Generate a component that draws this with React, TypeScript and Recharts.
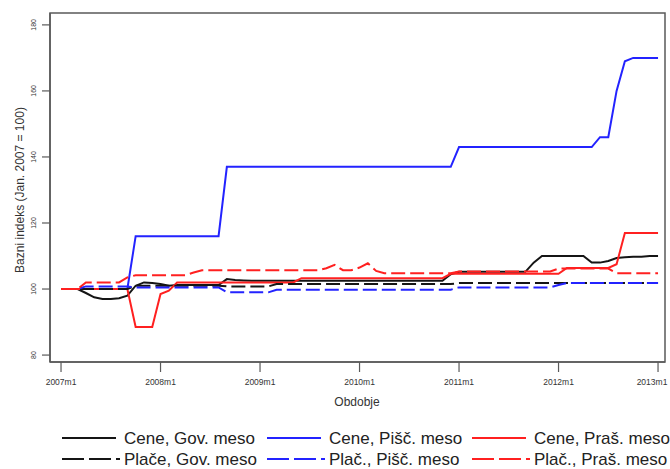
import React from "react";
import { LineChart, Line, XAxis, YAxis, ReferenceArea } from "recharts";

// months since 2007m1, one value per month up to 2013m1
const MONTHS: number[] = [
  0, 1, 2, 3, 4, 5, 6, 7, 8, 9, 10, 11,
  12, 13, 14, 15, 16, 17, 18, 19, 20, 21, 22, 23,
  24, 25, 26, 27, 28, 29, 30, 31, 32, 33, 34, 35,
  36, 37, 38, 39, 40, 41, 42, 43, 44, 45, 46, 47,
  48, 49, 50, 51, 52, 53, 54, 55, 56, 57, 58, 59,
  60, 61, 62, 63, 64, 65, 66, 67, 68, 69, 70, 71,
  72,
];

const X_TICKS = [0, 12, 24, 36, 48, 60, 72];
const X_TICK_LABELS = ["2007m1", "2008m1", "2009m1", "2010m1", "2011m1", "2012m1", "2013m1"];
const Y_TICKS = [80, 100, 120, 140, 160, 180];

const ceneGov: number[] = [
  100, 100, 100, 98.8, 97.5, 97, 97, 97.2, 98, 101, 102, 101.8,
  101.5, 101, 101.2, 101.2, 101.2, 101.2, 101.2, 101.2, 103, 102.7, 102.6, 102.5,
  102.5, 102.5, 102.5, 102.5, 102.5, 102.5, 102.5, 102.5, 102.5, 102.5, 102.5, 102.5,
  102.5, 102.5, 102.5, 102.5, 102.5, 102.5, 102.5, 102.5, 102.5, 102.5, 102.5, 104.5,
  105.2, 105.2, 105.2, 105.2, 105.2, 105.2, 105.2, 105.2, 105.2, 108, 110, 110,
  110, 110, 110, 110, 108, 108, 108.5, 109.4, 109.6, 109.8, 109.8, 110,
  110,
];

const cenePisc: number[] = [
  100, 100, 100, 100, 100, 100, 100, 100, 100, 116, 116, 116,
  116, 116, 116, 116, 116, 116, 116, 116, 137, 137, 137, 137,
  137, 137, 137, 137, 137, 137, 137, 137, 137, 137, 137, 137,
  137, 137, 137, 137, 137, 137, 137, 137, 137, 137, 137, 137,
  143, 143, 143, 143, 143, 143, 143, 143, 143, 143, 143, 143,
  143, 143, 143, 143, 143, 146, 146, 160, 169, 170, 170, 170,
  170,
];

const cenePras: number[] = [
  100, 100, 100, 100, 100, 100, 100, 100, 100, 88.5, 88.5, 88.5,
  98.5, 99.5, 102, 102, 102, 102, 102, 102, 102, 102, 102, 102,
  102, 102, 102, 102, 102, 103.3, 103.3, 103.3, 103.3, 103.3, 103.3, 103.3,
  103.3, 103.3, 103.3, 103.3, 103.3, 103.3, 103.3, 103.3, 103.3, 103.3, 103.3, 104.6,
  104.6, 104.6, 104.6, 104.6, 104.6, 104.6, 104.6, 104.6, 104.6, 104.6, 104.6, 104.6,
  104.6, 106.4, 106.4, 106.4, 106.4, 106.4, 106.4, 107.5, 117, 117, 117, 117,
  117,
];

const placeGov: number[] = [
  100, 100, 100, 100, 100, 100, 100, 100, 100, 101, 101, 101,
  101, 101, 101, 101, 101, 101, 101, 101, 100.8, 100.8, 100.8, 100.8,
  100.8, 100.8, 101.5, 101.5, 101.5, 101.5, 101.5, 101.5, 101.5, 101.5, 101.5, 101.5,
  101.5, 101.5, 101.5, 101.5, 101.5, 101.5, 101.5, 101.5, 101.5, 101.5, 101.5, 101.5,
  101.8, 101.8, 101.8, 101.8, 101.8, 101.8, 101.8, 101.8, 101.8, 101.8, 101.8, 101.8,
  101.8, 101.8, 101.8, 101.8, 101.8, 101.8, 101.8, 101.8, 101.8, 101.8, 101.8, 101.8,
  101.8,
];

const placPisc: number[] = [
  100, 100, 100, 100.8, 100.8, 100.8, 100.8, 100.8, 100.8, 100.5, 100.5, 100.5,
  100.5, 100.5, 100.5, 100.5, 100.5, 100.5, 100.5, 100.5, 99, 99, 99, 99,
  99, 99, 99.8, 99.8, 99.8, 99.8, 99.8, 99.8, 99.8, 99.8, 99.8, 99.8,
  99.8, 99.8, 99.8, 99.8, 99.8, 99.8, 99.8, 99.8, 99.8, 99.8, 99.8, 99.8,
  100.5, 100.5, 100.5, 100.5, 100.5, 100.5, 100.5, 100.5, 100.5, 100.5, 100.5, 100.5,
  101.2, 101.8, 101.8, 101.8, 101.8, 101.8, 101.8, 101.8, 101.8, 101.8, 101.8, 101.8,
  101.8,
];

const placPras: number[] = [
  100, 100, 100, 102, 102, 102, 102, 102, 103.5, 104.2, 104.2, 104.2,
  104.2, 104.2, 104.2, 104.2, 105, 105.7, 105.7, 105.7, 105.7, 105.7, 105.7, 105.7,
  105.7, 105.7, 105.7, 105.7, 105.7, 105.7, 105.7, 105.7, 106.3, 107.3, 105.7, 105.7,
  106.5, 107.8, 105.5, 104.8, 104.8, 104.8, 104.8, 104.8, 104.8, 104.8, 104.8, 104.8,
  105.3, 105.3, 105.3, 105.3, 105.3, 105.3, 105.3, 105.3, 105.3, 105.3, 105.3, 105.3,
  106.2, 106.2, 106.2, 106.2, 106.2, 106.2, 106.2, 104.8, 104.8, 104.8, 104.8, 104.8,
  104.8,
];

const BLACK = "#151515";
const BLUE = "#2323ff";
const RED = "#ff2020";
const DASH = "14 5";

const SERIES = [
  { key: "ceneGov", label: "Cene, Gov. meso", color: BLACK, dashed: false },
  { key: "cenePisc", label: "Cene, Pišč. meso", color: BLUE, dashed: false },
  { key: "cenePras", label: "Cene, Praš. meso", color: RED, dashed: false },
  { key: "placeGov", label: "Plače, Gov. meso", color: BLACK, dashed: true },
  { key: "placPisc", label: "Plač., Pišč. meso", color: BLUE, dashed: true },
  { key: "placPras", label: "Plač., Praš. meso", color: RED, dashed: true },
];

const data = MONTHS.map((m, i) => ({
  m,
  ceneGov: ceneGov[i],
  cenePisc: cenePisc[i],
  cenePras: cenePras[i],
  placeGov: placeGov[i],
  placPisc: placPisc[i],
  placPras: placPras[i],
}));

const X_MIN = -1.33;
const X_MAX = 72.84;
const Y_MIN = 77.9;
const Y_MAX = 183.6;

const FONT = "'Liberation Sans', Arial, sans-serif";
const AXIS_GRAY = "#5a5a5a";

// last label would run past the right edge, so pull it in
const XTick = ({ x, y, payload }: any) => {
  const cx = Math.min(x, 652);
  return (
    <text x={cx} y={y + 11} textAnchor="middle" fontSize={8.5} fontFamily={FONT} fill="#333">
      {X_TICK_LABELS[X_TICKS.indexOf(payload.value)]}
    </text>
  );
};

// Stata-style vertical tick labels on the y axis
const YTick = ({ y, payload }: any) => (
  <text
    x={36}
    y={y}
    transform={`rotate(-90, 36, ${y})`}
    textAnchor="middle"
    fontSize={7}
    fontFamily={FONT}
    fill="#333"
  >
    {payload.value}
  </text>
);

const Legend = () => (
  <svg
    width={670}
    height={469}
    style={{ position: "absolute", left: 0, top: 0, pointerEvents: "none" }}
  >
    {SERIES.map((s, i) => {
      const col = i % 3;
      const row = Math.floor(i / 3);
      const x0 = 62 + col * 205;
      const y0 = 438 + row * 21;
      return (
        <g key={s.key}>
          <line
            x1={x0}
            x2={x0 + (s.dashed ? 58 : 54)}
            y1={y0}
            y2={y0}
            stroke={s.color}
            strokeWidth={2}
            strokeDasharray={s.dashed ? "22 5" : undefined}
          />
          <text x={x0 + 62} y={y0 + 6} fontSize={17} fontFamily={FONT} fill="#222">
            {s.label}
          </text>
        </g>
      );
    })}
  </svg>
);

export default function App() {
  return (
    <div style={{ position: "absolute", left: 0, top: 0, width: 670, height: 469, background: "#fff" }}>
      <LineChart width={670} height={469} data={data} margin={{ top: 13, right: 5, left: 0, bottom: 0 }}>
        <XAxis
          dataKey="m"
          type="number"
          domain={[X_MIN, X_MAX]}
          ticks={X_TICKS}
          allowDataOverflow
          height={107}
          tickSize={10}
          tickMargin={2}
          tick={<XTick />}
          axisLine={{ stroke: AXIS_GRAY, strokeWidth: 1.5 }}
          tickLine={{ stroke: AXIS_GRAY, strokeWidth: 1.2 }}
          label={{
            content: () => (
              <text x={357} y={406} textAnchor="middle" fontSize={12} fontFamily={FONT} fill="#333">
                Obdobje
              </text>
            ),
          }}
        />
        <YAxis
          type="number"
          domain={[Y_MIN, Y_MAX]}
          ticks={Y_TICKS}
          allowDataOverflow
          width={50}
          tickSize={8}
          tickMargin={2}
          tick={<YTick />}
          axisLine={{ stroke: AXIS_GRAY, strokeWidth: 1.5 }}
          tickLine={{ stroke: AXIS_GRAY, strokeWidth: 1.2 }}
          label={{
            content: () => (
              <text
                x={0}
                y={0}
                transform="translate(24, 190) rotate(-90)"
                textAnchor="middle"
                fontSize={12}
                fontFamily={FONT}
                fill="#333"
              >
                Bazni indeks (Jan. 2007 = 100)
              </text>
            ),
          }}
        />
        <ReferenceArea
          x1={X_MIN}
          x2={X_MAX}
          y1={Y_MIN}
          y2={Y_MAX}
          fill="none"
          stroke={AXIS_GRAY}
          strokeWidth={1.5}
          ifOverflow="visible"
        />
        {SERIES.map((s) => (
          <Line
            key={s.key}
            type="linear"
            dataKey={s.key}
            stroke={s.color}
            strokeWidth={2}
            strokeDasharray={s.dashed ? DASH : undefined}
            dot={false}
            activeDot={false}
            isAnimationActive={false}
          />
        ))}
      </LineChart>
      <Legend />
    </div>
  );
}
